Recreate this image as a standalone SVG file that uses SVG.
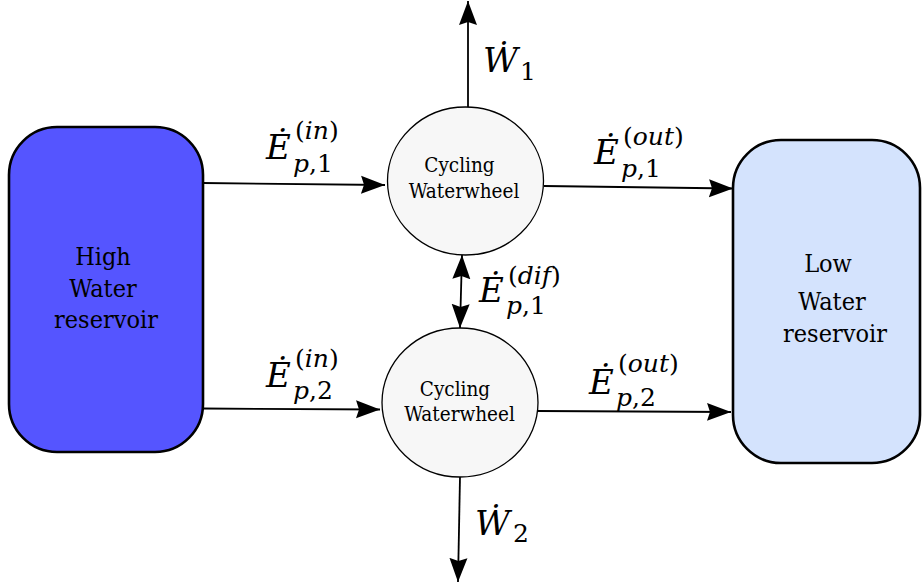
<svg xmlns="http://www.w3.org/2000/svg" width="922" height="586" viewBox="0 0 922 586">
<style>
.res{stroke:#000;stroke-width:2.6}
.wheel{fill:#f7f7f7;stroke:#000;stroke-width:1.3}
.conn{stroke:#000;stroke-width:1.8;fill:none}
.txt{font-family:"DejaVu Serif Condensed","DejaVu Serif",serif;fill:#000}
.node{font-size:25px;text-anchor:middle}
.wt{font-size:20.5px;text-anchor:middle}
.math{font-family:"DejaVu Serif",serif;fill:#000}
.m{font-size:34px;font-style:italic}
.s{font-size:25px}
.i{font-style:italic}
.u{font-style:normal}
</style>
<defs>
<marker id="ah" markerUnits="userSpaceOnUse" markerWidth="26" markerHeight="20" viewBox="0 0 26 20" refX="24" refY="10" orient="auto-start-reverse">
<path d="M0,1 L24,10 L0,19 L3,10 Z" fill="#000"/>
</marker>
</defs>
<g id="high" class="txt">
<rect class="res" x="9" y="127" width="194" height="325" rx="48" fill="#5555ff"/>
<text class="node" x="103" y="265">High</text>
<text class="node" x="103" y="297">Water</text>
<text class="node" x="106" y="328">reservoir</text>
</g>
<g id="low" class="txt">
<rect class="res" x="733" y="140" width="187" height="323" rx="48" fill="#d4e3fd"/>
<text class="node" x="828" y="272">Low</text>
<text class="node" x="832" y="310">Water</text>
<text class="node" x="835" y="342">reservoir</text>
</g>
<g id="wheel1" class="txt">
<ellipse class="wheel" cx="465.5" cy="181" rx="78" ry="74"/>
<text class="wt" x="459.5" y="172">Cycling</text>
<text class="wt" x="464" y="198">Waterwheel</text>
</g>
<g id="wheel2" class="txt">
<ellipse class="wheel" cx="460" cy="402.5" rx="78" ry="74.5"/>
<text class="wt" x="455" y="396">Cycling</text>
<text class="wt" x="459.5" y="421">Waterwheel</text>
</g>
<g id="connectors">
<path class="conn" d="M203,183 L385,185" marker-end="url(#ah)"/>
<path class="conn" d="M203,408.5 L380,409.5" marker-end="url(#ah)"/>
<path class="conn" d="M544,186 L733,188.5" marker-end="url(#ah)"/>
<path class="conn" d="M538,411 L731,412" marker-end="url(#ah)"/>
<path class="conn" d="M468,107 L468,1" marker-end="url(#ah)"/>
<path class="conn" d="M460,477 L458,582" marker-end="url(#ah)"/>
<path class="conn" d="M462,255 L460,328" marker-start="url(#ah)" marker-end="url(#ah)"/>
</g>
<g id="labels" class="math">
<text class="m" x="266" y="159">Ė</text>
<text class="s" x="295" y="139"><tspan class="u">(</tspan><tspan class="i">in</tspan><tspan class="u">)</tspan></text>
<text class="s" x="293" y="172"><tspan class="i">p</tspan><tspan class="u">,1</tspan></text>

<text class="m" x="266" y="387">Ė</text>
<text class="s" x="295" y="367"><tspan class="u">(</tspan><tspan class="i">in</tspan><tspan class="u">)</tspan></text>
<text class="s" x="293" y="399"><tspan class="i">p</tspan><tspan class="u">,2</tspan></text>

<text class="m" x="594" y="164">Ė</text>
<text class="s" x="623" y="145"><tspan class="u">(</tspan><tspan class="i">out</tspan><tspan class="u">)</tspan></text>
<text class="s" x="621" y="177"><tspan class="i">p</tspan><tspan class="u">,1</tspan></text>

<text class="m" x="589" y="394">Ė</text>
<text class="s" x="618" y="372"><tspan class="u">(</tspan><tspan class="i">out</tspan><tspan class="u">)</tspan></text>
<text class="s" x="616" y="406"><tspan class="i">p</tspan><tspan class="u">,2</tspan></text>

<text class="m" x="479" y="302">Ė</text>
<text class="s" x="508" y="284"><tspan class="u">(</tspan><tspan class="i">dif</tspan><tspan class="u">)</tspan></text>
<text class="s" x="506" y="314"><tspan class="i">p</tspan><tspan class="u">,1</tspan></text>

<text class="m" x="483" y="72">Ẇ</text>
<text class="s" x="520" y="80">1</text>

<text class="m" x="475" y="535">Ẇ</text>
<text class="s" x="513" y="542">2</text>
</g>
</svg>
